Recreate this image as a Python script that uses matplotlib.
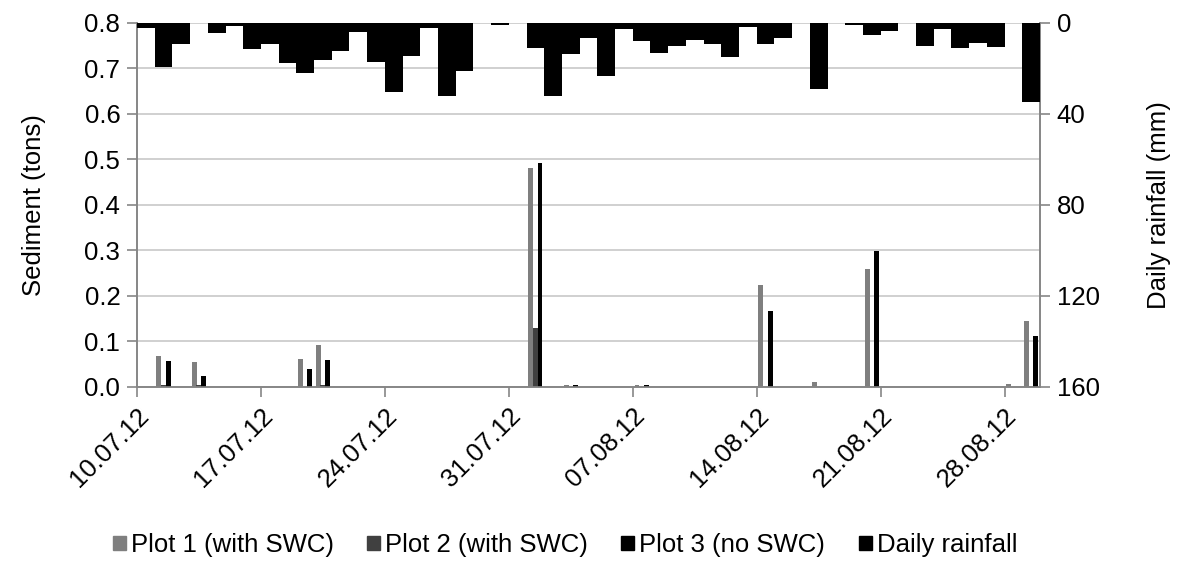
import matplotlib
matplotlib.use("Agg")
import matplotlib.pyplot as plt
import numpy as np
from matplotlib.patches import Patch

plt.rcParams['font.family'] = ['Liberation Sans', 'DejaVu Sans']

# Day index 0 = 10.07.12 ... 50 = 29.08.12
tick_labels = ["10.07.12", "17.07.12", "24.07.12", "31.07.12",
               "07.08.12", "14.08.12", "21.08.12", "28.08.12"]

rain = [2.5, 19.3, 9.5, 0, 4.7, 1.5, 11.7, 9.5, 17.9, 22.0,
        16.4, 12.4, 4.0, 17.1, 30.3, 14.6, 2.5, 32.0, 21.3, 0,
        1.2, 0, 11.0, 32.0, 13.9, 6.9, 23.3, 2.9, 7.9, 13.5,
        10.2, 7.6, 9.5, 15.2, 1.8, 9.5, 6.9, 0, 29.3, 0,
        1.0, 5.5, 3.5, 0, 10.1, 2.9, 11.3, 9.0, 10.5, 0, 34.9]

plot1 = [0, 0.068, 0, 0.055, 0, 0, 0, 0, 0, 0.060,
         0.092, 0, 0, 0, 0, 0, 0, 0, 0, 0,
         0, 0, 0.480, 0, 0.004, 0, 0, 0, 0.004, 0,
         0, 0, 0, 0, 0, 0.224, 0, 0, 0.010, 0,
         0, 0.258, 0, 0, 0, 0, 0, 0, 0, 0.007, 0.145]

plot2 = [0, 0.003, 0, 0.004, 0, 0, 0, 0, 0, 0,
         0.003, 0, 0, 0, 0, 0, 0, 0, 0, 0,
         0, 0, 0.130, 0, 0, 0, 0, 0, 0, 0,
         0, 0, 0, 0, 0, 0, 0, 0, 0, 0,
         0, 0, 0, 0, 0, 0, 0, 0, 0, 0, 0]

plot3 = [0, 0.057, 0, 0.023, 0, 0, 0, 0, 0, 0.040,
         0.058, 0, 0, 0, 0, 0, 0, 0, 0, 0,
         0, 0, 0.492, 0, 0.004, 0, 0, 0, 0.004, 0,
         0, 0, 0, 0, 0, 0.167, 0, 0, 0, 0,
         0, 0.298, 0, 0, 0, 0, 0, 0, 0, 0, 0.111]

c1, c2, c3, crain = '#7f7f7f', '#404040', '#000000', '#000000'
axis_col = '#868686'
grid_col = '#c8c8c8'
fs = 18.5

fig = plt.figure(figsize=(11.82, 5.61), dpi=100)
ax = fig.add_axes([137/1182, 1 - 386.7/561, (1040-137)/1182, (386.7-22.7)/561])

n = len(rain)
x = np.arange(n) + 0.5
w = 0.28
ax.bar(x - 0.26, plot1, width=w, color=c1, zorder=3)
ax.bar(x, plot2, width=w, color=c2, zorder=3)
ax.bar(x + 0.26, plot3, width=w, color=c3, zorder=4)

ax.set_xlim(0, n)
ax.set_ylim(0, 0.8)
ax.set_yticks(np.arange(0, 0.81, 0.1))
ax.set_yticklabels([f"{v:.1f}" for v in np.arange(0, 0.81, 0.1)], fontsize=fs)
ax.yaxis.grid(True, color=grid_col, linewidth=1.2, zorder=0)
ax.set_axisbelow(True)
ax.set_xticks(np.arange(len(tick_labels)) * 7)
ax.set_xticklabels(tick_labels, rotation=45, ha='right', rotation_mode='anchor', fontsize=fs)
ax.set_ylabel("Sediment (tons)", fontsize=fs, labelpad=28)
ax.spines['top'].set_visible(False)
for s in ['left', 'bottom', 'right']:
    ax.spines[s].set_color(axis_col)
    ax.spines[s].set_linewidth(1.2)
ax.tick_params(axis='both', colors=axis_col, labelcolor='black', length=7, width=1.2, direction='out')
ax.tick_params(axis='y', pad=5)
ax.tick_params(axis='x', pad=5)

ax2 = ax.twinx()
ax2.bar(x, rain, width=1.0, color=crain, zorder=3)
ax2.set_ylim(160, 0)
ax2.set_yticks([0, 40, 80, 120, 160])
ax2.set_yticklabels(["0", "40", "80", "120", "160"], fontsize=fs)
ax2.set_ylabel("Daily rainfall (mm)", fontsize=fs, labelpad=34)
ax2.spines['top'].set_visible(False)
for s in ['left', 'bottom', 'right']:
    ax2.spines[s].set_color(axis_col)
    ax2.spines[s].set_linewidth(1.2)
ax2.tick_params(axis='y', colors=axis_col, labelcolor='black', length=7, width=1.2, direction='out', pad=5)
ax2.set_xlim(0, n)

handles = [Patch(color=c1), Patch(color=c2), Patch(color=c3), Patch(color=crain)]
labels = ["Plot 1 (with SWC)", "Plot 2 (with SWC)", "Plot 3 (no SWC)", "Daily rainfall"]
fig.legend(handles, labels, ncol=4, loc='center', bbox_to_anchor=(565/1182, 1 - 545/561),
           frameon=False, fontsize=fs, handlelength=0.5, handleheight=0.5,
           handletextpad=0.2, columnspacing=1.3)

fig.savefig("out.png", dpi=100)
